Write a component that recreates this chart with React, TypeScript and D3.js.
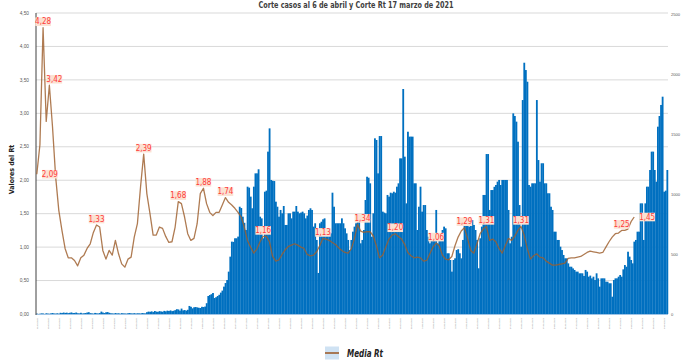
import React from "react";
import * as d3 from "d3";

// ---------- DATA ----------
const TITLE = "Corte casos al 6 de abril y Corte Rt 17 marzo de 2021";
const Y_LEFT_TITLE = "Valores del Rt";
const LEGEND_LABEL = "Media Rt";
const START_DATE = new Date(2020, 2, 1); // 1 March 2020 = day 0

const leftTicks = [0, 0.5, 1, 1.5, 2, 2.5, 3, 3.5, 4, 4.5];
const rightTicks = [0, 500, 1000, 1500, 2000, 2500];

// daily cases, day 0 .. day 401 (6 April 2021)
const casesEarly = [
  3, 0, 2, 5, 4, 0, 6, 3, 2, 5, 8, 4, 3, 6, 2,
  10, 8, 12, 9, 11, 7, 10, 13, 8, 9, 12, 6, 5, 10,
  4, 6, 8, 12, 15, 7, 5, 3, 9, 6, 4, 8,
  20, 12, 8, 14, 16, 10, 6,
  5, 3, 8, 4, 6, 2, 7, 5, 4, 3, 6, 8, 5, 4, 7, 3, 6, 5, 4, 8, 6, 5,
  15, 20, 18, 22, 16, 25, 20, 18, 24, 21, 19,
  26, 22, 28, 25, 30, 24, 27, 32,
  40, 38, 28, 45,
  30, 33, 28, 35,
  67, 60,
  47, 56, 58, 55, 52, 50,
];
const casesMid = [
  60, 58, 62, 90, 150, 158, 165, 175, 133, 140, 150, 160, 178, 195, 228, 258, 283, 353, 478, 603,
  601, 631, 631, 645, 894, 883, 811, 760, 700, 1061, 1053, 978, 881, 1061, 1172, 1172, 1206, 811, 797, 631,
  1019, 1028, 1353, 1547, 1117, 1110, 1108, 936, 894, 811, 867, 839, 900, 742, 742, 839, 839, 797, 853, 853,
  900, 853, 839, 845, 853, 839, 797, 820, 867, 881, 867, 728, 756, 617, 342, 756, 769, 789, 797, 686,
  690, 686, 672, 1011, 894, 756, 756, 756, 756, 797, 756, 714, 672, 617, 533, 617, 686, 728, 756, 783,
  797, 589, 617, 700, 950, 1144, 1136, 1089, 644, 839, 1464, 1450, 1172, 1483, 1483, 853, 845, 839, 992, 978,
  1011, 1006, 1019, 1011, 1061, 1089, 1297, 1297, 1875, 1311, 922, 1519, 1478, 1478, 1478, 1089, 1089, 700, 894, 1061,
  853, 908, 908, 700, 644, 589, 617, 644, 672, 867, 589, 620, 620, 700, 728, 714, 506, 506, 450, 353,
  450, 464, 533, 540, 506, 464, 617, 783, 775, 769, 728, 789, 783, 742, 700, 617, 381, 631, 728, 992,
  992, 1333, 1333, 867, 1033, 1033, 1060, 1075, 1103, 1117, 1075, 1117, 1117, 1117, 1117, 867, 589, 644, 1672, 1650,
  1603, 1436,
];
const casesLate = [
  908, 561, 1783, 2094, 2033, 1936, 1075, 1061, 1089, 1089,
  1089, 1783, 1283, 1103, 1256, 1256, 1089, 1089, 1006, 1006,
  894, 867, 686, 686, 617, 617, 561, 533, 492, 464,
  464, 422, 394, 394, 380, 367, 353, 353, 339, 339,
  339, 317, 367, 353, 311, 320, 297, 311, 283, 339,
  297, 228, 297, 297, 297, 269, 269, 256, 256, 144,
  283, 297, 297, 311, 325, 311, 372, 408, 394, 519,
  478, 450, 422, 603, 617, 686, 686, 922, 922, 617,
  922, 1061, 1061, 1200, 1353, 1353, 1200, 1103, 1561, 1650,
  1742, 1811, 1019, 1028, 1200,
];
const cases = [...casesEarly, ...casesMid, ...casesLate];

// Rt sampled every 2 days from day 0 to day 380 (17 March 2021)
const RT_STEP = 2;
const rt = [
  2.09, 2.53, 4.28, 2.88, 3.42, 2.80, 2.05, 1.55, 1.25, 0.98,
  0.84, 0.84, 0.80, 0.72, 0.84, 0.88, 0.98, 1.05, 1.22, 1.33,
  1.30, 0.95, 0.82, 0.95, 0.88, 1.10, 0.90, 0.75, 0.70, 0.82,
  0.85, 1.15, 1.35, 1.90, 2.39, 1.80, 1.50, 1.18, 1.18, 1.30,
  1.28, 1.16, 1.07, 1.08, 1.30, 1.68, 1.65, 1.45, 1.20, 1.10,
  1.13, 1.35, 1.80, 1.88, 1.65, 1.52, 1.47, 1.52, 1.52, 1.63,
  1.74, 1.67, 1.63, 1.58, 1.52, 1.45, 1.30, 1.10, 1.00, 0.91,
  0.97, 1.08, 1.16, 1.16, 1.08, 0.86, 0.79, 0.81, 0.89, 0.96,
  1.01, 1.03, 1.05, 1.03, 1.00, 0.98, 0.89, 0.87, 0.88, 0.93,
  1.02, 1.13, 1.12, 1.10, 1.07, 1.04, 0.99, 0.95, 0.92, 0.91,
  0.97, 1.12, 1.34, 1.24, 1.22, 1.23, 1.23, 1.17, 1.02, 0.84,
  0.88, 1.00, 1.12, 1.18, 1.20, 1.16, 1.12, 1.04, 0.92, 0.87,
  0.84, 0.85, 0.84, 0.79, 0.80, 0.90, 1.00, 1.06, 1.02, 0.88,
  0.82, 0.81, 0.86, 1.02, 1.15, 1.24, 1.29, 1.13, 0.95, 0.91,
  1.05, 1.20, 1.27, 1.31, 1.10, 1.12, 1.08, 0.98, 0.91, 1.02,
  1.13, 1.10, 1.16, 1.25, 1.31, 1.18, 0.98, 0.82, 0.87, 0.90,
  0.85, 0.84, 0.79, 0.76, 0.73, 0.73, 0.74, 0.75, 0.76, 0.83,
  0.84, 0.84, 0.85, 0.86, 0.89, 0.92, 0.94, 0.93, 0.92, 0.91,
  0.92, 1.00, 1.08, 1.15, 1.20, 1.21, 1.25, 1.25, 1.27, 1.38,
  1.45,
];

// labelled Rt points: index into rt[] and label placement
const rtLabelIdx = [0, 2, 4, 19, 34, 45, 53, 60, 72, 91, 102, 114, 127, 136, 143, 154, 186, 190];
const rtLabelPos = ["right", "above", "aboveRight", "above", "above", "above", "above", "above", "above", "above", "aboveRight", "above", "above", "above", "above", "above", "above", "right"];

// ---------- LAYOUT ----------
const W = 681, H = 360;
const X0 = 36, X1 = 668, Y0 = 314, Y1 = 13;
const BAR = "#0070c0";
const RT_COLOR = "#9e5e2c";
const LABEL_FILL = "#fbe1d2";
const LABEL_TEXT = "#ff3a3a";
const NARROW = "'Liberation Sans Narrow', 'DejaVu Sans Condensed', 'Arial Narrow', 'Liberation Sans', Arial, sans-serif";
const SANS = "'Liberation Sans', Arial, sans-serif";

export default function App() {
  const N = cases.length;
  const x = d3.scaleBand<number>().domain(d3.range(N)).range([X0, X1]).padding(0);
  const bw = x.bandwidth();
  const yL = d3.scaleLinear().domain([0, 4.5]).range([Y0, Y1]);
  const yR = d3.scaleLinear().domain([0, 2500]).range([Y0, Y1 + 1]);
  const fmtComma = (v: number, digits: number) => v.toFixed(digits).replace(".", ",");
  const fmtDate = d3.timeFormat("%d/%m/%Y");

  const rtPts = rt.map((v, i) => ({ day: i * RT_STEP, v }));
  const rtX = (day: number) => (x(day) ?? X0) + bw / 2;
  const line = d3
    .line<{ day: number; v: number }>()
    .x((d) => rtX(d.day))
    .y((d) => yL(d.v));

  const weekDays = d3.range(0, N, 7);

  const offsets: Record<string, [number, number]> = {
    above: [0, -6],
    aboveRight: [5, -6],
    right: [13, 0],
  };

  return (
    <svg
      width={W}
      height={H}
      viewBox={`0 0 ${W} ${H}`}
      style={{ position: "absolute", left: 0, top: 0, background: "#fff" }}
    >
      {/* title */}
      <text
        x={356}
        y={8}
        textAnchor="middle"
        fontFamily={NARROW}
        fontWeight="bold"
        fontSize={8.5}
        fill="#404040"
        textLength={195}
        lengthAdjust="spacingAndGlyphs"
      >
        {TITLE}
      </text>

      {/* gridlines */}
      {leftTicks.map((t) => (
        <line key={"g" + t} x1={X0} x2={X1} y1={yL(t)} y2={yL(t)} stroke="#d9d9d9" strokeWidth={1} />
      ))}

      {/* left tick labels */}
      {leftTicks.map((t) => (
        <text key={"l" + t} x={29} y={yL(t) + 1.7} textAnchor="end" fontFamily={SANS} fontSize={4.8} fill="#595959">
          {fmtComma(t, 2)}
        </text>
      ))}

      {/* right tick labels */}
      {rightTicks.map((t) => (
        <text key={"r" + t} x={671} y={yR(t) + 1.6} textAnchor="start" fontFamily={SANS} fontSize={4.1} fill="#595959">
          {t}
        </text>
      ))}

      {/* left axis title */}
      <text
        transform={`translate(14,${(Y0 + Y1) / 2 + 6}) rotate(-90)`}
        textAnchor="middle"
        fontFamily={NARROW}
        fontWeight="bold"
        fontSize={7}
        fill="#222"
      >
        {Y_LEFT_TITLE}
      </text>

      {/* bars */}
      <g>
        {cases.map((c, i) => (
          <rect
            key={"b" + i}
            x={x(i)}
            y={yR(c)}
            width={bw + 0.25}
            height={Math.max(0.6, Y0 - yR(c))}
            fill={BAR}
          />
        ))}
      </g>

      {/* axes lines */}
      <line x1={X0} x2={X1} y1={Y0 + 0.5} y2={Y0 + 0.5} stroke="#9dc3e6" strokeWidth={1} />
      <line x1={X0} x2={X0} y1={Y1} y2={Y0 + 1} stroke="#404040" strokeWidth={1} />

      {/* x date labels */}
      {weekDays.map((d) => (
        <text
          key={"x" + d}
          transform={`translate(${(x(d) ?? 0) + bw / 2 + 0.8},${Y0 + 4}) rotate(-90)`}
          textAnchor="end"
          fontFamily={SANS}
          fontSize={2.2}
          fill="#777"
        >
          {fmtDate(d3.timeDay.offset(START_DATE, d))}
        </text>
      ))}

      {/* Rt line */}
      <path d={line(rtPts) ?? ""} fill="none" stroke={RT_COLOR} strokeOpacity={0.82} strokeWidth={1.3} strokeLinejoin="round" />

      {/* Rt labels */}
      {rtLabelIdx.map((idx, k) => {
        const p = rtPts[idx];
        const [dx, dy] = offsets[rtLabelPos[k]];
        const cx = rtX(p.day) + dx;
        const cy = yL(p.v) + dy;
        return (
          <g key={"lab" + k}>
            <rect x={cx - 7.8} y={cy - 4.3} width={15.6} height={8.6} fill={LABEL_FILL} />
            <text x={cx} y={cy + 2.6} textAnchor="middle" fontFamily={NARROW} fontSize={8} fill={LABEL_TEXT}>
              {fmtComma(p.v, 2)}
            </text>
          </g>
        );
      })}

      {/* legend */}
      <rect x={325} y={346.5} width={14} height={13} fill="#cfe2f3" />
      <line x1={325} x2={339} y1={353} y2={353} stroke={RT_COLOR} strokeWidth={1.6} />
      <text
        x={347}
        y={356.5}
        fontFamily={NARROW}
        fontWeight="bold"
        fontStyle="italic"
        fontSize={10}
        fill="#222"
        textLength={36}
        lengthAdjust="spacingAndGlyphs"
      >
        {LEGEND_LABEL}
      </text>
    </svg>
  );
}
